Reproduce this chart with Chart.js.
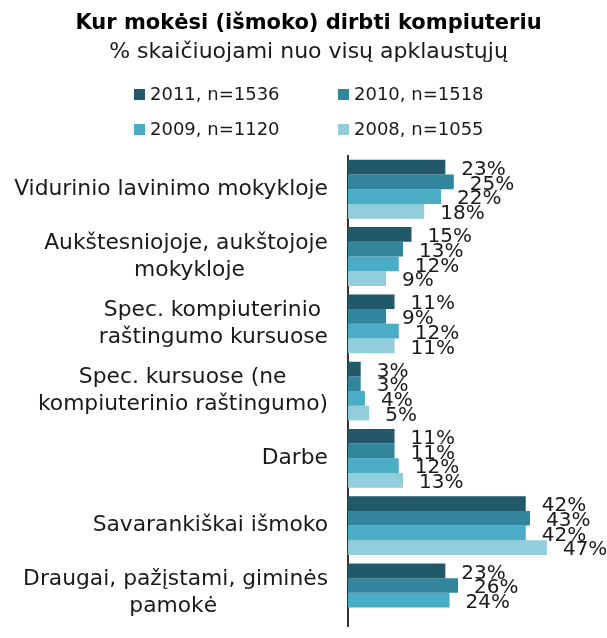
<!DOCTYPE html>
<html><head><meta charset="utf-8">
<script src="https://cdn.jsdelivr.net/npm/chart.js@4/dist/chart.umd.min.js"></script>
<style>
html,body{margin:0;padding:0;background:#fff;overflow:hidden;width:607px;height:638px}
#wrap{position:relative;width:607px;height:638px;overflow:hidden}
#box{position:absolute;left:0;top:0;width:607px;height:660px}
</style></head><body>
<div id="wrap"><div id="box"><canvas id="c"></canvas></div></div>
<script>
// ---- data ----
const categories = [
  ['Vidurinio lavinimo mokykloje'],
  ['Aukštesniojoje, aukštojoje', 'mokykloje'],
  ['Spec. kompiuterinio', 'raštingumo kursuose'],
  ['Spec. kursuose (ne', 'kompiuterinio raštingumo)'],
  ['Darbe'],
  ['Savarankiškai išmoko'],
  ['Draugai, pažįstami, giminės', 'pamokė']
];
const seriesLabels = ['2011, n=1536', '2010, n=1518', '2009, n=1120', '2008, n=1055'];
const values2011 = [23, 15, 11, 3, 11, 42, 23];
const values2010 = [25, 13, 9, 3, 11, 43, 26];
const values2009 = [22, 12, 12, 4, 12, 42, 24];
const values2008 = [18, 9, 11, 5, 13, 47, null]; // last one is cut off in the picture
const titleText = 'Kur mokėsi (išmoko) dirbti kompiuteriu';
const subtitleText = '% skaičiuojami nuo visų apklaustųjų';
const seriesColors = ['#215968', '#31859c', '#4bacc6', '#92cddc'];

// ---- styling helpers ----
const FONT = '"DejaVu Sans", Verdana, sans-serif';
const tickSize = 21.8;
const tickPadding = 20;
const measure = document.createElement('canvas').getContext('2d');
measure.font = tickSize + 'px ' + FONT;
function centerLines(lines) {
  if (lines.length < 2) return lines[0];
  const w = lines.map(l => measure.measureText(l).width);
  const max = Math.max(...w);
  const sp = measure.measureText(' ').width;
  return lines.map((l, i) => l + ' '.repeat(Math.round((max - w[i]) / 2 / sp)));
}
const widestLabel = Math.max(...categories.flat().map(l => measure.measureText(l).width));

const gridLegend = {
  id: 'gridLegend',
  afterDraw(chart, args, opts) {
    const ctx = chart.ctx;
    ctx.save();
    ctx.font = opts.fontSize + 'px ' + FONT;
    ctx.textBaseline = 'middle';
    ctx.textAlign = 'left';
    chart.data.datasets.forEach((ds, i) => {
      const col = i % 2, row = Math.floor(i / 2);
      const x = opts.colX[col], y = opts.rowY[row];
      ctx.fillStyle = ds.backgroundColor;
      ctx.fillRect(x, y - opts.box / 2 - 0.5, opts.box, opts.box);
      ctx.fillStyle = opts.color;
      ctx.fillText(ds.label, x + opts.textGap, y);
    });
    ctx.restore();
  }
};

const valueLabels = {
  id: 'valueLabels',
  afterDatasetsDraw(chart, args, opts) {
    const ctx = chart.ctx;
    ctx.save();
    ctx.font = opts.fontSize + 'px ' + FONT;
    ctx.fillStyle = opts.color;
    ctx.textAlign = 'left';
    ctx.textBaseline = 'middle';
    chart.data.datasets.forEach((ds, di) => {
      const meta = chart.getDatasetMeta(di);
      meta.data.forEach((bar, i) => {
        const v = ds.data[i];
        if (v == null) return;
        ctx.fillText(v + '%', bar.x + opts.dx, bar.y + opts.dy);
      });
    });
    ctx.restore();
  }
};

const allValues = [values2011, values2010, values2009, values2008];

new Chart(document.getElementById('c'), {
  type: 'bar',
  data: {
    labels: categories.map(centerLines),
    datasets: allValues.map((vals, i) => ({
      label: seriesLabels[i],
      data: vals,
      backgroundColor: seriesColors[i],
      borderWidth: 0,
      barPercentage: 1,
      categoryPercentage: 0.874
    }))
  },
  options: {
    indexAxis: 'y',
    responsive: true,
    maintainAspectRatio: false,
    animation: false,
    events: [],
    layout: { padding: { left: 10, right: 0, top: 0, bottom: 11 } },
    scales: {
      x: { display: false, min: 0, max: 61.2 },
      y: {
        position: 'left',
        afterFit(scale) { scale.width = Math.ceil(widestLabel) + tickPadding + 4; },
        grid: { display: false, drawTicks: false },
        border: { display: true, color: '#333333', width: 2 },
        ticks: {
          autoSkip: false,
          padding: tickPadding,
          color: '#1a1a1a',
          font: { family: FONT, size: tickSize, lineHeight: 1.24 }
        }
      }
    },
    plugins: {
      legend: { display: false },
      tooltip: { enabled: false },
      title: {
        display: true, text: titleText, color: '#000',
        font: { family: FONT, size: 21, weight: 'bold' },
        padding: { top: 11, bottom: 3 }
      },
      subtitle: {
        display: true, text: subtitleText, color: '#1a1a1a',
        font: { family: FONT, size: 22 },
        padding: { top: 0, bottom: 90 }
      },
      gridLegend: { colX: [134, 338], rowY: [95, 130], box: 11, textGap: 16, fontSize: 18, color: '#1a1a1a' },
      valueLabels: { fontSize: 20, dx: 16, dy: 2.5, color: '#1a1a1a' }
    }
  },
  plugins: [gridLegend, valueLabels]
});
</script>
</body></html>
